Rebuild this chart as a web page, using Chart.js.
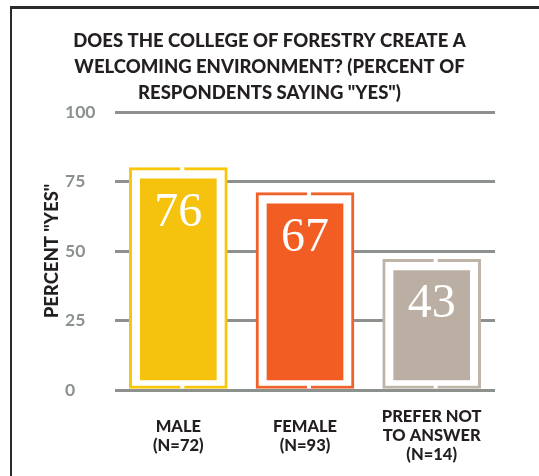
<!DOCTYPE html>
<html>
<head>
<meta charset="utf-8">
<script src="https://cdn.jsdelivr.net/npm/chart.js@4/dist/chart.umd.min.js"></script>
<style>
  html, body { margin: 0; padding: 0; background: #fff; }
  #wrap { position: relative; width: 539px; height: 476px; overflow: hidden; }
  #frame {
    position: absolute; left: 10px; top: 6px; right: 0; bottom: 0;
    border-left: 2px solid #2b2a2a; border-top: 3px solid #2b2a2a;
    pointer-events: none;
  }
</style>
</head>
<body>
<div id="wrap">
  <canvas id="welcome_chart" width="539" height="476"></canvas>
  <div id="frame"></div>
</div>
<script>
// survey answers by gender
const categories = [
    ['MALE', '(N=72)'],
    ['FEMALE', '(N=93)'],
    ['PREFER NOT', 'TO ANSWER', '(N=14)']
];
const percentYes = [76, 67, 43];
const yTicks = [0, 25, 50, 75, 100];

const fillColors = ['#f5c20d', '#f15d22', '#bbafa3'];
const outlineColors = ['#f9c70a', '#f1622a', '#c0b4a8'];

// outline box sits a little above the value, the filled bar floats off the axis
const OUTLINE_PAD = 4;
const FILL_BASE = 3.6;
const INK = '#231f20';
const HEAVY = '900';

const barDecor = {
    id: 'barDecor',
    afterDatasetsDraw(chart) {
        const ctx = chart.ctx;
        ctx.save();
        // small breaks in the outline, top and bottom
        ctx.fillStyle = '#fff';
        chart.getDatasetMeta(1).data.forEach(bar => {
            const p = bar.getProps(['x', 'y', 'base'], true);
            ctx.fillRect(p.x + 2, p.y - 1, 4, 5);
            ctx.fillRect(p.x + 2, p.base - 4, 4, 4);
        });
        // value printed inside the top of each bar
        ctx.font = '48px "Liberation Serif", serif';
        ctx.textAlign = 'center';
        ctx.textBaseline = 'alphabetic';
        chart.getDatasetMeta(0).data.forEach((bar, i) => {
            const p = bar.getProps(['x', 'y'], true);
            ctx.fillText(String(percentYes[i]), p.x, p.y + 47);
        });
        ctx.restore();
    }
};

const ctx = document.getElementById('welcome_chart');
new Chart(ctx, {
    type: 'bar',
    data: {
        labels: categories,
        datasets: [{
            label: 'fill',
            data: percentYes.map(v => [FILL_BASE, v]),
            backgroundColor: fillColors,
            borderWidth: 0,
            barThickness: 76,
            grouped: false,
            order: 0
        }, {
            label: 'outline',
            data: percentYes.map(v => v + OUTLINE_PAD),
            backgroundColor: '#ffffff',
            borderColor: outlineColors,
            borderWidth: 3,
            borderSkipped: false,
            barThickness: 98,
            grouped: false,
            order: 1
        }]
    },
    options: {
        responsive: false,
        animation: false,
        devicePixelRatio: 1,
        layout: { padding: 0 },
        plugins: {
            legend: { display: false },
            tooltip: { enabled: false },
            title: {
                display: true,
                text: [
                    'DOES THE COLLEGE OF FORESTRY CREATE A',
                    'WELCOMING ENVIRONMENT? (PERCENT OF',
                    'RESPONDENTS SAYING "YES")'
                ],
                color: INK,
                font: { family: 'Lato', weight: HEAVY, size: 18.5, lineHeight: 26 / 18.5 },
                padding: { top: 28, bottom: 6 }
            }
        },
        scales: {
            x: {
                grid: { display: false, drawTicks: false },
                border: { display: false },
                ticks: {
                    color: INK,
                    font: { family: 'Lato', weight: HEAVY, size: 16.5, lineHeight: 19 / 16.5 },
                    crossAlign: 'center',
                    padding: 27,
                    maxRotation: 0,
                    autoSkip: false
                },
                afterFit(scale) { scale.height = 86; }
            },
            y: {
                min: 0,
                max: 100,
                weight: 0,
                afterBuildTicks(scale) { scale.ticks = yTicks.map(v => ({ value: v })); },
                grid: { color: '#8c918e', lineWidth: 3, drawTicks: false },
                border: { display: false },
                ticks: {
                    color: '#8a9190',
                    font: { family: 'Lato', weight: 'bold', size: 17.5 },
                    crossAlign: 'far'
                },
                afterFit(scale) { scale.width = 50; }
            },
            // outer left strip that only carries the axis title
            yTitle: {
                type: 'linear',
                position: 'left',
                weight: 1,
                grid: { display: false },
                border: { display: false },
                ticks: { display: false },
                title: {
                    display: true,
                    text: 'PERCENT "YES"',
                    color: INK,
                    font: { family: 'Lato', weight: HEAVY, size: 18.5, lineHeight: 1.2 },
                    padding: { top: 41, bottom: 0 }
                },
                afterFit(scale) { scale.width = 65; }
            },
            // empty strip on the right so the gridlines stop short of the edge
            yRight: {
                type: 'linear',
                position: 'right',
                grid: { display: false },
                border: { display: false },
                ticks: { display: false },
                afterFit(scale) { scale.width = 44; }
            }
        }
    },
    plugins: [barDecor]
});
</script>
</body>
</html>
